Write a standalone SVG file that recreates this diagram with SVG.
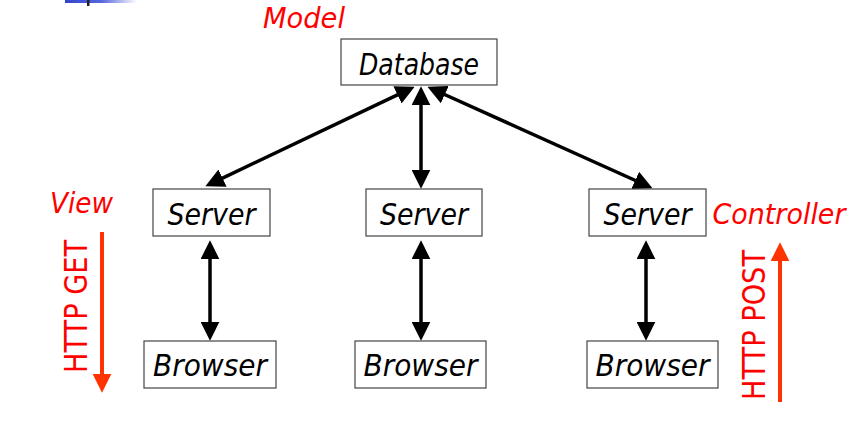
<svg xmlns="http://www.w3.org/2000/svg" width="867" height="426" viewBox="0 0 867 426">
<defs>
<style>
.box{fill:#fff;stroke:#444;stroke-width:1.2}
.lbl{font-family:"DejaVu Sans",Verdana,sans-serif;font-style:italic;font-size:30px;fill:#000;text-anchor:middle}
.red{font-family:"DejaVu Sans",Verdana,sans-serif;font-size:29px;fill:#ff0000;text-anchor:middle}
.it{font-style:italic}
.rot{font-size:32px}
.con{stroke:#000;stroke-width:3.5;fill:none;marker-start:url(#ah);marker-end:url(#ah)}
.rarr{stroke:#ff3300;stroke-width:4;fill:none;marker-end:url(#rh)}
</style>
<linearGradient id="bg" x1="0" x2="1" y1="0" y2="0">
<stop offset="0" stop-color="#3344cc"/>
<stop offset="0.5" stop-color="#5566dd"/>
<stop offset="1" stop-color="#ffffff"/>
</linearGradient>
<marker id="ah" markerUnits="userSpaceOnUse" markerWidth="19" markerHeight="19" viewBox="0 0 18 18" refX="6" refY="9" orient="auto-start-reverse">
<path d="M0,0 L18,9 L0,18 z" fill="#000"/>
</marker>
<marker id="rh" markerUnits="userSpaceOnUse" markerWidth="19" markerHeight="19" viewBox="0 0 18 18" refX="6" refY="9" orient="auto">
<path d="M0,0 L18,9 L0,18 z" fill="#ff3300"/>
</marker>
</defs>
<rect width="867" height="426" fill="#fff"/>
<rect x="65" y="0" width="72" height="3" fill="url(#bg)"/>
<rect x="87" y="0" width="2.5" height="6" fill="#222"/>

<g id="connectors">
<line class="con" x1="403.2" y1="92.2" x2="216.8" y2="180.8"/>
<line class="con" x1="421" y1="99" x2="421" y2="176"/>
<line class="con" x1="439" y1="92" x2="641" y2="183"/>
<line class="con" x1="210" y1="253" x2="210" y2="328"/>
<line class="con" x1="421" y1="253" x2="421" y2="328"/>
<line class="con" x1="646" y1="253" x2="646" y2="328"/>
<line class="rarr" x1="102" y1="232" x2="102" y2="380"/>
<line class="rarr" x1="780" y1="402" x2="780" y2="255"/>
</g>

<g id="database"><rect class="box" x="341" y="39" width="156" height="46"/><text class="lbl" x="419" y="75" textLength="120" lengthAdjust="spacingAndGlyphs">Database</text></g>
<g id="server1"><rect class="box" x="153" y="189" width="117" height="47"/><text class="lbl" x="211.5" y="225" textLength="88" lengthAdjust="spacingAndGlyphs">Server</text></g>
<g id="server2"><rect class="box" x="366" y="189" width="116" height="47"/><text class="lbl" x="424" y="225" textLength="88" lengthAdjust="spacingAndGlyphs">Server</text></g>
<g id="server3"><rect class="box" x="589" y="189" width="117" height="47"/><text class="lbl" x="647.5" y="225" textLength="88" lengthAdjust="spacingAndGlyphs">Server</text></g>
<g id="browser1"><rect class="box" x="144" y="341" width="132" height="47"/><text class="lbl" x="210" y="376" textLength="114" lengthAdjust="spacingAndGlyphs">Browser</text></g>
<g id="browser2"><rect class="box" x="355" y="341" width="131" height="47"/><text class="lbl" x="420.5" y="376" textLength="114" lengthAdjust="spacingAndGlyphs">Browser</text></g>
<g id="browser3"><rect class="box" x="587" y="341" width="131" height="47"/><text class="lbl" x="652.5" y="376" textLength="114" lengthAdjust="spacingAndGlyphs">Browser</text></g>

<g id="labels">
<text class="red it" x="304" y="28" textLength="82" lengthAdjust="spacingAndGlyphs">Model</text>
<text class="red it" x="81.5" y="213" textLength="63" lengthAdjust="spacingAndGlyphs">View</text>
<text class="red it" x="779" y="224" textLength="133" lengthAdjust="spacingAndGlyphs">Controller</text>
<text class="red rot" transform="translate(87,306.5) rotate(-90)" textLength="133" lengthAdjust="spacingAndGlyphs">HTTP GET</text>
<text class="red rot" transform="translate(765,325) rotate(-90)" textLength="150" lengthAdjust="spacingAndGlyphs">HTTP POST</text>
</g>
</svg>
